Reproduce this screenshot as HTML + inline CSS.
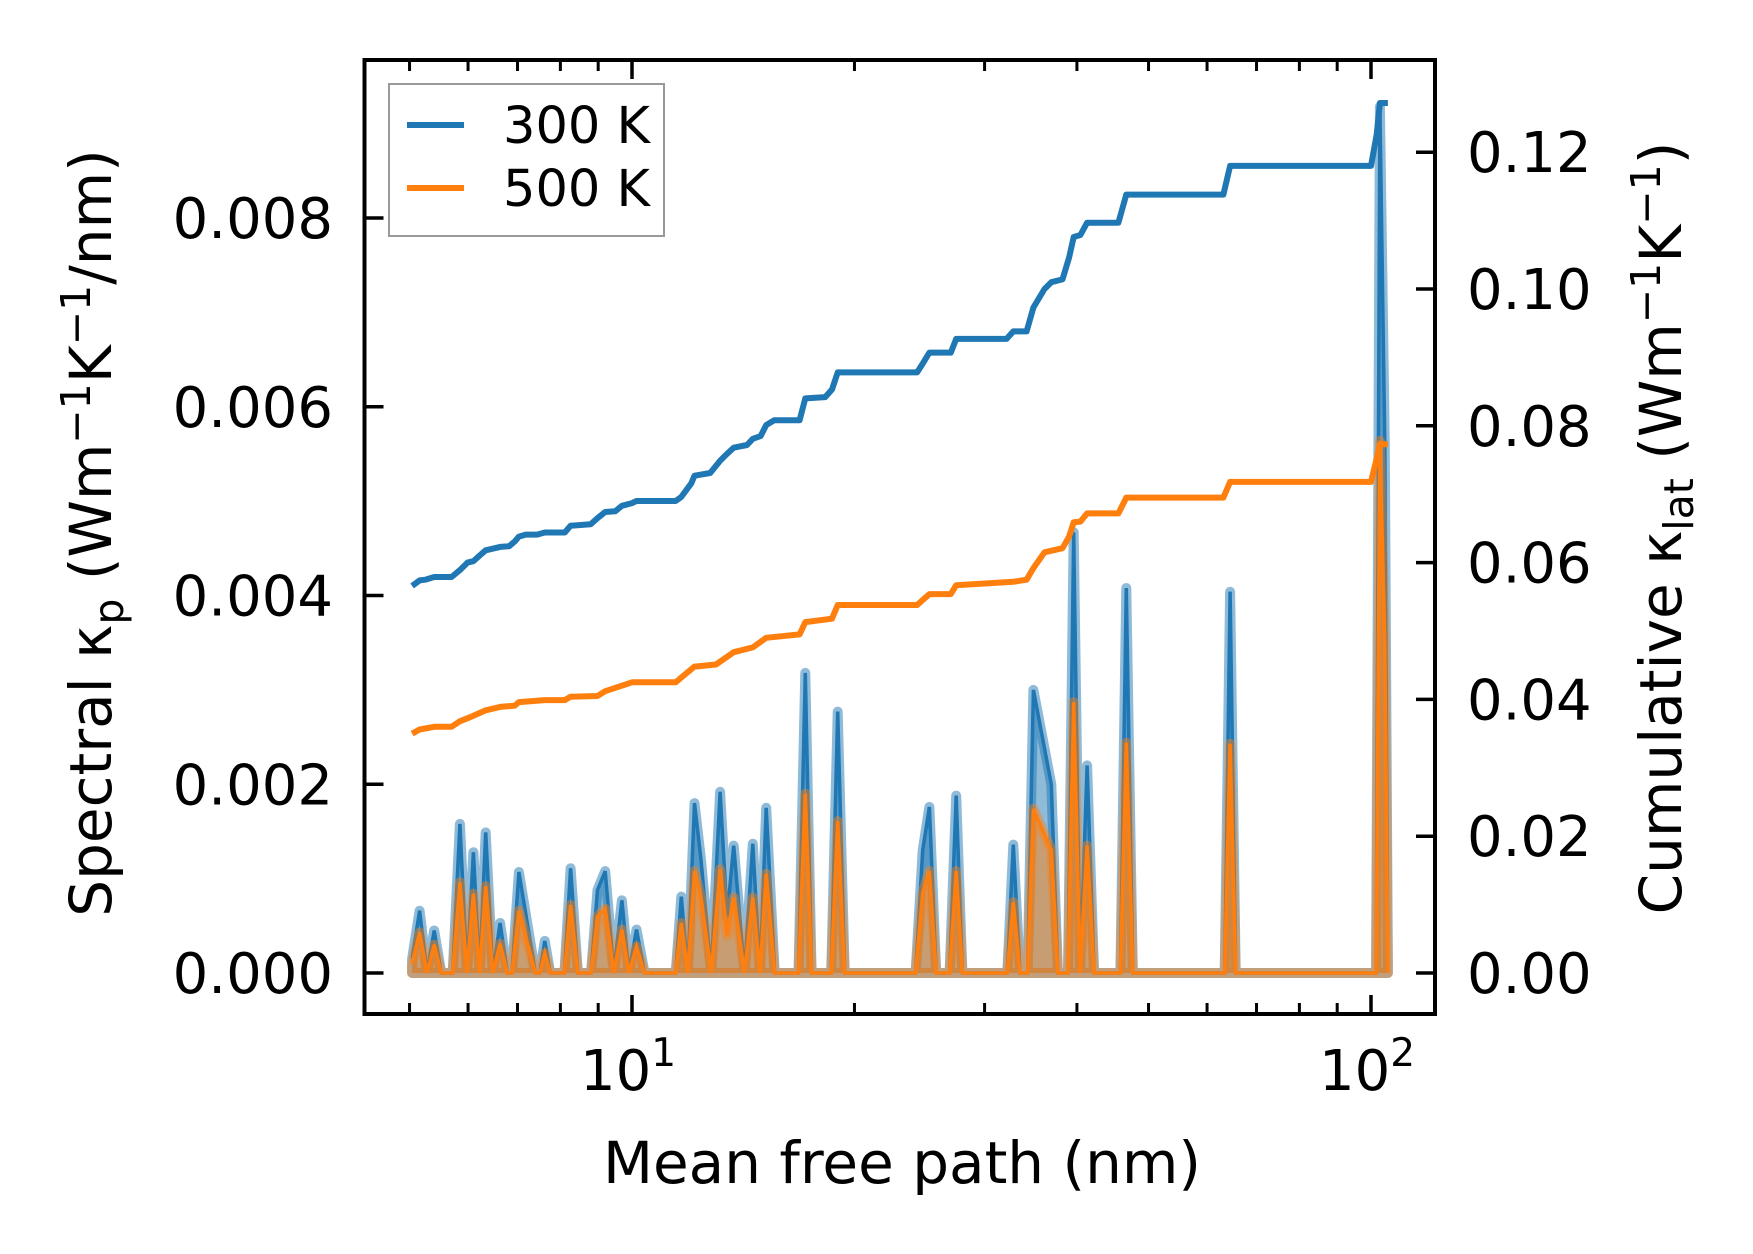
<!DOCTYPE html>
<html><head><meta charset="utf-8"><style>
html,body{margin:0;padding:0;background:#fff;}
svg{display:block;font-family:"DejaVu Sans","Liberation Sans",sans-serif;}
</style></head>
<body>
<svg id="chart" width="1753" height="1254" viewBox="0 0 1753 1254" xmlns="http://www.w3.org/2000/svg">
<rect x="0" y="0" width="1753" height="1254" fill="#fff"/>
<g id="plot"></g>
<g id="axes"></g>
<g id="legend">
  <rect x="389" y="84" width="275" height="152" fill="#fff" fill-opacity="0.8" stroke="#999" stroke-width="2"/>
  <line x1="407" y1="125" x2="464" y2="125" stroke="#1f77b4" stroke-width="6"/>
  <text x="503" y="143" font-size="51">300 K</text>
  <line x1="407" y1="188" x2="464" y2="188" stroke="#ff7f0e" stroke-width="6"/>
  <text x="503" y="206" font-size="51">500 K</text>
</g>
<text x="902" y="1183" font-size="58" text-anchor="middle">Mean free path (nm)</text>
<text transform="translate(111,533) rotate(-90)" font-size="58" text-anchor="middle">Spectral κ<tspan font-size="41" dy="12">p</tspan><tspan dy="-12"> (Wm</tspan><tspan font-size="41" dy="-21">−1</tspan><tspan dy="21">K</tspan><tspan font-size="41" dy="-21">−1</tspan><tspan dy="21">/nm)</tspan></text>
<text transform="translate(1681,528) rotate(-90)" font-size="58" text-anchor="middle">Cumulative κ<tspan font-size="41" dy="12">lat</tspan><tspan dy="-12"> (Wm</tspan><tspan font-size="41" dy="-21">−1</tspan><tspan dy="21">K</tspan><tspan font-size="41" dy="-21">−1</tspan><tspan dy="21">)</tspan></text>
</svg>
<script>
// spectral data (nm, W m^-1 K^-1 / nm)
const specMfp = [5.04,5.16,5.28,5.40,5.52,5.72,5.85,5.98,6.10,6.22,6.34,6.48,6.63,6.78,6.88,7.03,7.40,7.50,7.62,7.75,8.10,8.26,8.45,8.80,8.98,9.20,9.45,9.69,9.90,10.14,10.40,11.46,11.66,11.90,12.15,12.40,12.80,13.16,13.45,13.73,14.20,14.57,14.90,15.19,15.60,16.80,17.16,17.50,18.60,18.98,19.40,24.20,24.74,25.26,25.80,26.90,27.46,28.00,32.20,32.81,33.50,34.30,34.93,36.93,37.70,38.90,39.60,40.40,41.29,42.20,45.80,46.65,47.60,63.40,64.47,65.60,101.6,102.8,104.4,105.4];
const spec300 = [0.00015,0.00066,0,0.00045,0,0,0.00158,0,0.00128,0,0.00149,0,0.00053,0,0,0.00107,0,0,0.00034,0,0,0.00111,0,0,0.00088,0.00108,0,0.00077,0,0.00046,0,0,0.00081,0,0.0018,0.0012,0,0.00192,0.0006,0.00135,0,0.00137,0,0.00175,0,0,0.00318,0,0,0.00277,0,0,0.0013,0.00176,0,0,0.00188,0,0,0.00136,0,0,0.0030,0.0020,0,0,0.00467,0,0.0022,0,0,0.00408,0,0,0.00404,0,0,0.00918,0.0056,0];
const spec500 = [0.0001,0.00043,0,0.0003,0,0,0.00096,0,0.00084,0,0.00092,0,0.00031,0,0,0.00066,0,0,0.00021,0,0,0.00072,0,0,0.0006,0.00068,0,0.00046,0,0.00028,0,0,0.00053,0,0.00108,0.0008,0,0.0011,0.0004,0.0008,0,0.0008,0,0.00105,0,0,0.0019,0,0,0.00161,0,0,0.00085,0.00108,0,0,0.00108,0,0,0.00075,0,0,0.00174,0.0013,0,0,0.00287,0,0.00135,0,0,0.00244,0,0,0.00243,0,0,0.00564,0.0035,0];
// cumulative data (nm, W m^-1 K^-1)
const cumMfp300 = [5.04,5.16,5.25,5.40,5.70,5.85,5.99,6.10,6.23,6.34,6.63,6.82,6.94,7.03,7.18,7.44,7.62,8.11,8.26,8.79,8.98,9.20,9.49,9.69,10.0,10.14,11.46,11.66,12.03,12.15,12.76,13.16,13.45,13.73,14.31,14.57,14.93,15.19,15.57,16.86,17.16,18.26,18.65,18.98,24.31,24.74,25.26,27.00,27.46,32.13,32.81,34.20,34.93,36.16,36.93,38.24,39.04,39.60,40.44,41.29,45.52,46.65,63.14,64.47,100,101.8,102.8,105.4];
const cum300 = [0.0566,0.0574,0.0575,0.0579,0.0579,0.0589,0.0600,0.0602,0.0611,0.0618,0.0623,0.0624,0.0631,0.0638,0.0641,0.0641,0.0644,0.0644,0.0654,0.0656,0.0665,0.0674,0.0675,0.0683,0.0687,0.0690,0.0690,0.0696,0.0716,0.0727,0.0731,0.0749,0.0759,0.0768,0.0772,0.0781,0.0785,0.0801,0.0808,0.0808,0.0840,0.0842,0.0853,0.0878,0.0878,0.0891,0.0907,0.0907,0.0927,0.0927,0.0938,0.0938,0.0973,0.1000,0.1010,0.1014,0.1046,0.1076,0.1079,0.1097,0.1097,0.1138,0.1138,0.1180,0.1180,0.1226,0.1272,0.1272];
const cumMfp500 = [5.04,5.16,5.40,5.70,5.85,6.10,6.34,6.63,6.94,7.03,7.62,8.11,8.26,8.98,9.20,9.69,10.0,11.46,11.66,12.15,12.99,13.73,14.57,15.19,16.86,17.16,18.65,18.98,24.31,25.26,27.00,27.46,32.81,34.20,34.93,36.16,38.24,39.04,39.60,40.44,41.29,45.52,46.65,63.14,64.47,100,101.8,102.8,105.4];
const cum500 = [0.0350,0.0356,0.0360,0.0360,0.0368,0.0376,0.0384,0.0389,0.0391,0.0396,0.0399,0.0399,0.0404,0.0405,0.0412,0.0420,0.0425,0.0425,0.0432,0.0448,0.0451,0.0469,0.0476,0.0490,0.0495,0.0513,0.0518,0.0538,0.0538,0.0554,0.0554,0.0567,0.0572,0.0575,0.0592,0.0615,0.0621,0.0638,0.0659,0.0660,0.0672,0.0672,0.0695,0.0695,0.0718,0.0718,0.0752,0.0773,0.0773];
const leftTicks = [0,0.002,0.004,0.006,0.008];
const leftTickLabels = ["0.000","0.002","0.004","0.006","0.008"];
const rightTicks = [0,0.02,0.04,0.06,0.08,0.10,0.12];
const rightTickLabels = ["0.00","0.02","0.04","0.06","0.08","0.10","0.12"];
const xMajor = [10,100];
const xMajorExp = ["1","2"];
const xMinor = [5,6,7,8,9,20,30,40,50,60,70,80,90];

const L=364.5,R=1435,T=60,B=1014;
const X0=632, DEC=739;
function xs(v){return X0+(Math.log10(v)-1)*DEC;}
function yl(v){return 973-v*94375;}
function yr(v){return 973-v*6840;}
const NS='http://www.w3.org/2000/svg';
function mk(tag,attrs,parent){const e=document.createElementNS(NS,tag);for(const k in attrs)e.setAttribute(k,attrs[k]);parent.appendChild(e);return e;}
const plot=document.getElementById('plot');
const axes=document.getElementById('axes');

function linePts(xa,ya,yf){return xa.map((x,i)=>xs(x).toFixed(1)+','+yf(ya[i]).toFixed(1)).join(' ');}
function areaPts(xa,ya,yf){return xs(xa[0]).toFixed(1)+','+yf(0)+' '+linePts(xa,ya,yf)+' '+xs(xa[xa.length-1]).toFixed(1)+','+yf(0);}

let e=mk('polygon',{points:areaPts(specMfp,spec300,yl),fill:'rgba(31,119,180,0.5)',stroke:'rgba(31,119,180,0.5)','stroke-width':10,'stroke-linejoin':'round'},plot);


e=mk('polyline',{points:linePts(specMfp,spec300,yl),fill:'none',stroke:'#1f77b4','stroke-width':3.5},plot);


e=mk('polygon',{points:areaPts(specMfp,spec500,yl),fill:'rgba(255,127,14,0.5)',stroke:'rgba(255,127,14,0.45)','stroke-width':10,'stroke-linejoin':'round'},plot);


e=mk('polyline',{points:linePts(specMfp,spec500,yl),fill:'none',stroke:'#ff7f0e','stroke-width':3.5},plot);


e=mk('polyline',{points:linePts(cumMfp300,cum300,yr),fill:'none',stroke:'#1f77b4','stroke-width':6,'stroke-linejoin':'round'},plot);


e=mk('polyline',{points:linePts(cumMfp500,cum500,yr),fill:'none',stroke:'#ff7f0e','stroke-width':6,'stroke-linejoin':'round'},plot);



e=mk('rect',{x:L,y:T,width:R-L,height:B-T,fill:'none',stroke:'#000','stroke-width':4},axes);


xMajor.forEach((v,i)=>{const x=xs(v);
  let t=mk('line',{x1:x,y1:B,x2:x,y2:B-19,stroke:'#000','stroke-width':3.5},axes);
  
  
  t=mk('line',{x1:x,y1:T,x2:x,y2:T+19,stroke:'#000','stroke-width':3.5},axes);
  
  
  const tx=mk('text',{x:x-4,y:1090,'font-size':56,'text-anchor':'middle'},axes);
  tx.textContent='10';
  const sup=mk('tspan',{'font-size':39,dy:-24},tx);
  sup.textContent=xMajorExp[i];
  
  
});
xMinor.forEach(v=>{const x=xs(v);
  let t=mk('line',{x1:x,y1:B,x2:x,y2:B-11,stroke:'#000','stroke-width':3},axes);
  
  
  t=mk('line',{x1:x,y1:T,x2:x,y2:T+11,stroke:'#000','stroke-width':3},axes);
  
  
});
leftTicks.forEach((v,i)=>{const y=yl(v);
  const t=mk('line',{x1:L,y1:y,x2:L+19,y2:y,stroke:'#000','stroke-width':3.5},axes);
  
  
  const tx=mk('text',{x:333,y:y+20,'font-size':56,'text-anchor':'end'},axes);
  tx.textContent=leftTickLabels[i];
  
  
});
rightTicks.forEach((v,i)=>{const y=yr(v);
  const t=mk('line',{x1:R,y1:y,x2:R-19,y2:y,stroke:'#000','stroke-width':3.5},axes);
  
  
  const tx=mk('text',{x:1467,y:y+20,'font-size':56,'text-anchor':'start'},axes);
  tx.textContent=rightTickLabels[i];
  
  
});
</script>
</body></html>
